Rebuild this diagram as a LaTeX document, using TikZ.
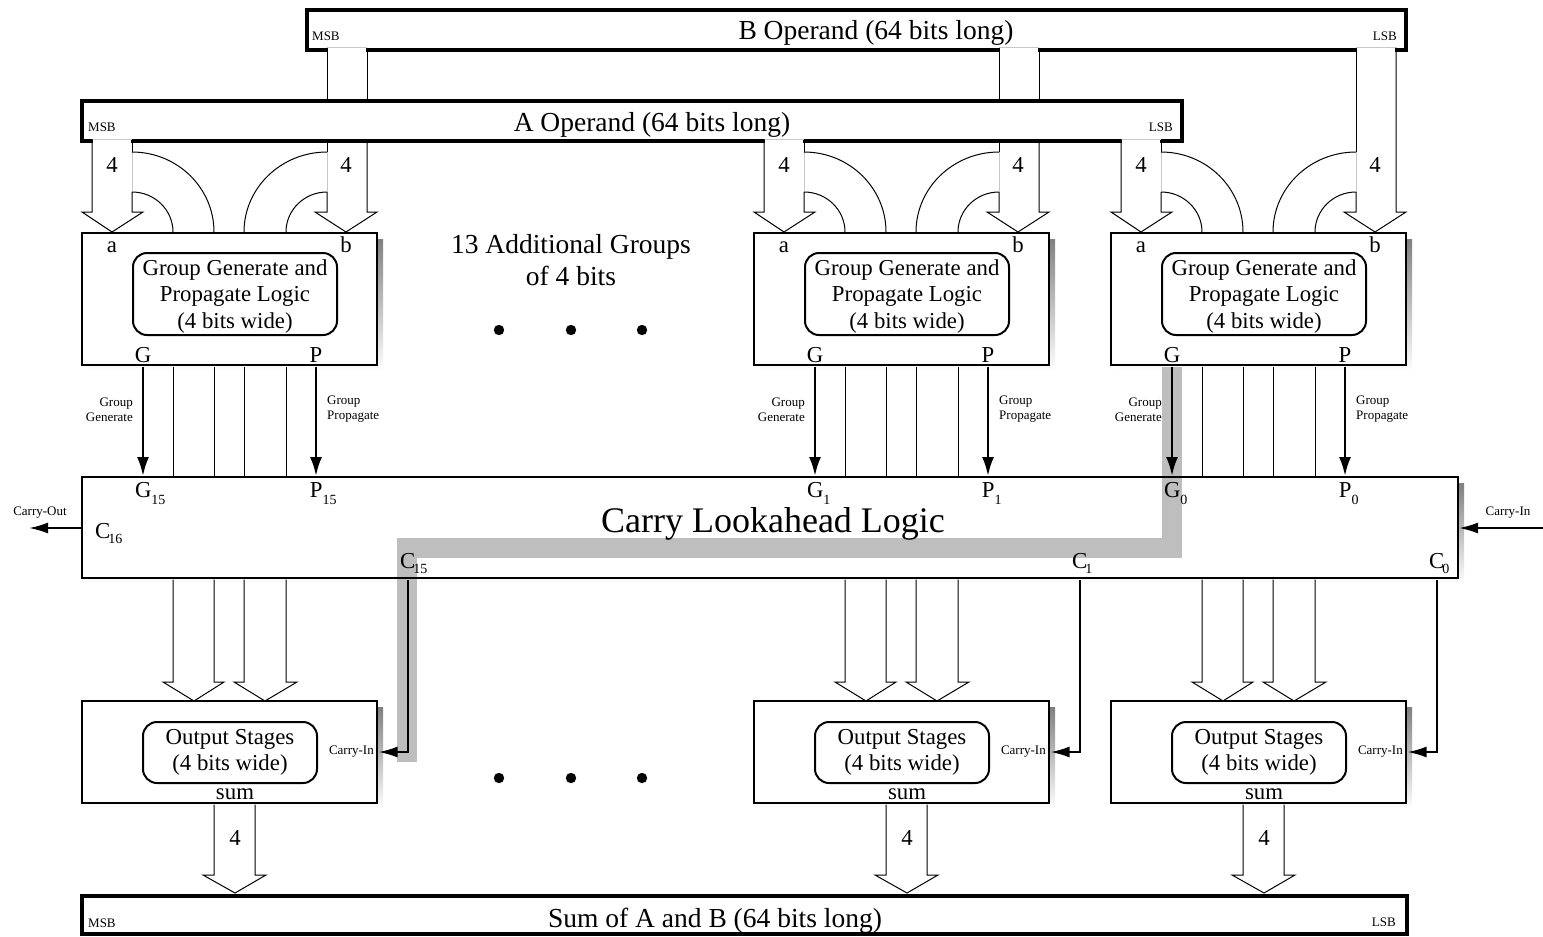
\documentclass[tikz,border=0pt]{standalone}
\usepackage{fontspec}
\setmainfont{Liberation Serif}
\usetikzlibrary{arrows.meta}

\definecolor{shade}{RGB}{128,128,128}
\definecolor{hilite}{RGB}{190,190,190}
\definecolor{seam}{RGB}{200,200,200}

\newcommand\FontMain{\fontsize{22.8}{26.5}\selectfont}
\newcommand\FontBus{\fontsize{27.5}{32}\selectfont}
\newcommand\FontBig{\fontsize{36}{40}\selectfont}
\newcommand\FontSmall{\fontsize{13}{15}\selectfont}
% signal name with a lowered index, e.g. G_15
\newcommand\SigIdx[3]{#1\kern#3\raisebox{-7.5pt}{\fontsize{14}{14}\selectfont #2}}
\newcommand\CarIdx[1]{C\kern-2pt\raisebox{-5pt}{\fontsize{14}{14}\selectfont #1}}

\tikzset{
  wire/.style={line width=1pt},
  seamline/.style={line width=1pt, draw=seam},
  busbar/.style={draw, line width=4pt, fill=white, inner sep=0pt, outer sep=0pt},
  blockfill/.style={fill=white, inner sep=0pt, outer sep=0pt},
  blockbox/.style={draw, line width=2.5pt, fill=white, inner sep=0pt, outer sep=0pt},
  logicbox/.style={draw, line width=2pt, rounded corners=14pt, fill=white,
    inner sep=0pt, outer sep=0pt, align=center, font=\FontMain},
  sigarrow/.style={line width=2.5pt, -{Latex[length=19pt,width=12pt]}},
  carryarrow/.style={line width=2pt, -{Latex[length=19pt,width=11pt]}},
  lbl/.style={inner sep=0pt, font=\FontMain},
  tiny/.style={inner sep=0pt, font=\FontSmall},
}

\begin{document}
\begin{tikzpicture}[x=1pt, y=-1pt, line join=miter]
\useasboundingbox (0,0) rectangle (1543,937);

% ---------------- B operand bus and its taps ----------------
\node[busbar, minimum width=1099.3pt, minimum height=40.2pt] (bbus) at (856.35,29.6) {};
\node[tiny, anchor=base west] (bmsb) at (312,40) {MSB};
\node[tiny, anchor=base east] (blsb) at (1397,40) {LSB};
\node[inner sep=0pt, font=\FontBus, anchor=base] (btitle) at (876,39) {B Operand (64 bits long)};
\foreach \x in {327,999,1356}{
  \fill[white] (\x+0.6,46.5) rectangle (\x+39.4,52.5);
  \draw[seamline] (\x,47.7) -- (\x+40,47.7);
}
\foreach \x in {327,999}{
  \draw[wire] (\x,47.7) -- (\x,100) (\x+40,47.7) -- (\x+40,100);
}

% ---------------- A operand bus ----------------
\node[busbar, minimum width=1100pt, minimum height=40.3pt] (abus) at (632,120.85) {};
\node[tiny, anchor=base west] (amsb) at (88,131) {MSB};
\node[tiny, anchor=base east] (alsb) at (1173,131) {LSB};
\node[inner sep=0pt, font=\FontBus, anchor=base] (atitle) at (652,131) {A Operand (64 bits long)};

% ---------------- group generate / propagate blocks ----------------
\foreach \L/\i/\btop in {82/15/143, 754/1/143, 1111/0/47.7}{
\begin{scope}[shift={(\L,0)}]
  % opening of the A bus for the a operand tap
  \fill[white] (10.6,137.5) rectangle (49.4,143.5);
  \draw[seamline] (10,139) -- (50,139);
  % a operand bus arrow with its ribbon
  \draw[wire] (10,139) -- (10,212) -- (0,212) -- (30,232) -- (61,212) -- (50,212) -- (50,192);
  \draw[wire] (50,152) -- (50,139);
  \draw[seamline] (50,152) -- (50,192);
  \draw[wire] (50,152) .. controls (95.3,152) and (132,187.8) .. (132,232);
  \draw[wire] (50,192) .. controls (72.6,192) and (91,209.9) .. (91,232);
  % b operand bus arrow with its ribbon
  \draw[wire] (285,\btop) -- (285,212) -- (295,212) -- (264,232) -- (233,212) -- (245,212) -- (245,192);
  \draw[wire] (245,152) -- (245,\btop);
  \draw[seamline] (245,152) -- (245,192);
  \draw[wire] (245,152) .. controls (199.2,152) and (162,187.8) .. (162,232);
  \draw[wire] (245,192) .. controls (222.4,192) and (204,209.9) .. (204,232);
  \node[lbl] (na\i) at (30,165) {4};
  \node[lbl] (nb\i) at (264,165) {4};
  % block with drop shadow
  \fill[shade] (6,239) rectangle (301,371);
  \node[blockbox, minimum width=295pt, minimum height=132pt] (grp\i) at (147.5,299) {};
  \node[logicbox, minimum width=204pt, minimum height=82pt] (gpl\i) at (153,294) {};
  \node[lbl, align=center] (gpt\i) at (153,296.5)
    {Group Generate and\\Propagate Logic\\(4 bits wide)};
  \node[lbl, anchor=base] (pa\i) at (30,252) {a};
  \node[lbl, anchor=base] (pb\i) at (264,252) {b};
  \node[lbl, anchor=base] (pg\i) at (61,362) {G};
  \node[lbl, anchor=base] (pp\i) at (234,362) {P};
  % operand bits passed through to the lookahead logic
  \foreach \x in {91,132,162,204}{ \draw[wire] (\x,366.5) -- (\x,477); }
  \node[tiny, anchor=east, align=right] (gg\i) at (51,409.5) {Group\\Generate};
  \node[tiny, anchor=west, align=left] (gpr\i) at (245,409.5) {Group\\Propagate};
\end{scope}
}

% ---------------- carry lookahead logic ----------------
\fill[shade] (88,483) rectangle (1464,584);
\node[blockfill, minimum width=1376pt, minimum height=101pt] (cla) at (770,527.5) {};
% critical carry path
\draw[hilite, line width=20pt] (1172,367) -- (1172,548) -- (407,548) -- (407,762);
\draw[line width=2.5pt] (cla.north west) rectangle (cla.south east);
\node[inner sep=0pt, font=\FontBig, anchor=base, text height=24pt, text depth=8pt] (clatitle) at (773,532.5) {Carry Lookahead Logic};
\node[lbl, anchor=base west] (c16) at (95,538) {\CarIdx{16}};

\coordinate (coutL) at (82,528);
\coordinate (coutR) at (29,528);
\draw[carryarrow] (coutL) -- (coutR);
\node[tiny] (couttxt) at (40,513) {Carry-Out};
\coordinate (cinR) at (1543,528);
\coordinate (cinL) at (1459,528);
\draw[carryarrow] (cinR) -- (cinL);
\node[tiny] (cintxt) at (1508,513) {Carry-In};

\foreach \L/\i in {82/15, 754/1, 1111/0}{
\begin{scope}[shift={(\L,0)}]
  \coordinate (gs\i) at (61,366.5);
  \coordinate (ge\i) at (61,476);
  \coordinate (ps\i) at (234,366.5);
  \coordinate (pe\i) at (234,476);
  \draw[sigarrow] (gs\i) -- (ge\i);
  \draw[sigarrow] (ps\i) -- (pe\i);
  \node[lbl, anchor=base west] (lg\i) at (52.8,497) {\SigIdx{G}{\i}{0pt}};
  \node[lbl, anchor=base west] (lp\i) at (227.7,497) {\SigIdx{P}{\i}{0pt}};
  \node[lbl, anchor=base west] (lc\i) at (318,568) {\CarIdx{\i}};
\end{scope}
}

% ---------------- output stages ----------------
\foreach \L/\i in {82/15, 754/1, 1111/0}{
\begin{scope}[shift={(\L,0)}]
  \draw[wire] (91,579.5) -- (91,682) -- (81,682) -- (112,701) -- (142,682) -- (132,682) -- (132,579.5);
  \draw[wire] (162,579.5) -- (162,682) -- (152,682) -- (183,701) -- (215,682) -- (204,682) -- (204,579.5);
  \fill[shade] (6,707) rectangle (301,809);
  \node[blockbox, minimum width=295pt, minimum height=102pt] (out\i) at (147.5,752) {};
  \node[logicbox, minimum width=174pt, minimum height=61pt] (ost\i) at (148,752.5)
    {Output Stages\\(4 bits wide)};
  \node[lbl, anchor=base] (sum\i) at (153,799) {sum};
  \node[tiny, anchor=east] (ci\i) at (292,752) {Carry-In};
  \coordinate (cs\i) at (326,579.5);
  \coordinate (cb\i) at (326,752);
  \coordinate (ce\i) at (296.5,752);
  \draw[carryarrow] (cs\i) -- (cb\i) -- (ce\i);
  \draw[wire] (132,804.5) -- (132,875) -- (121,875) -- (153,893) -- (184,875) -- (173,875) -- (173,804.5);
  \node[lbl] (ns\i) at (153,838) {4};
\end{scope}
}

% ---------------- elided groups ----------------
\node[inner sep=0pt, font=\FontBus, anchor=base] (more1) at (571,253) {13 Additional Groups};
\node[inner sep=0pt, font=\FontBus, anchor=base] (more2) at (571,285) {of 4 bits};
\foreach \x in {499,571,642}{
  \fill (\x,330) circle (5.2);
  \fill (\x,778) circle (5.2);
}

% ---------------- sum bus ----------------
\node[busbar, minimum width=1325pt, minimum height=38pt] (sbus) at (744.5,915) {};
\node[tiny, anchor=base west] (smsb) at (88,927) {MSB};
\node[tiny, anchor=base east] (slsb) at (1396,926) {LSB};
\node[inner sep=0pt, font=\FontBus, anchor=base] (stitle) at (715,927) {Sum of A and B (64 bits long)};
\end{tikzpicture}
\end{document}
